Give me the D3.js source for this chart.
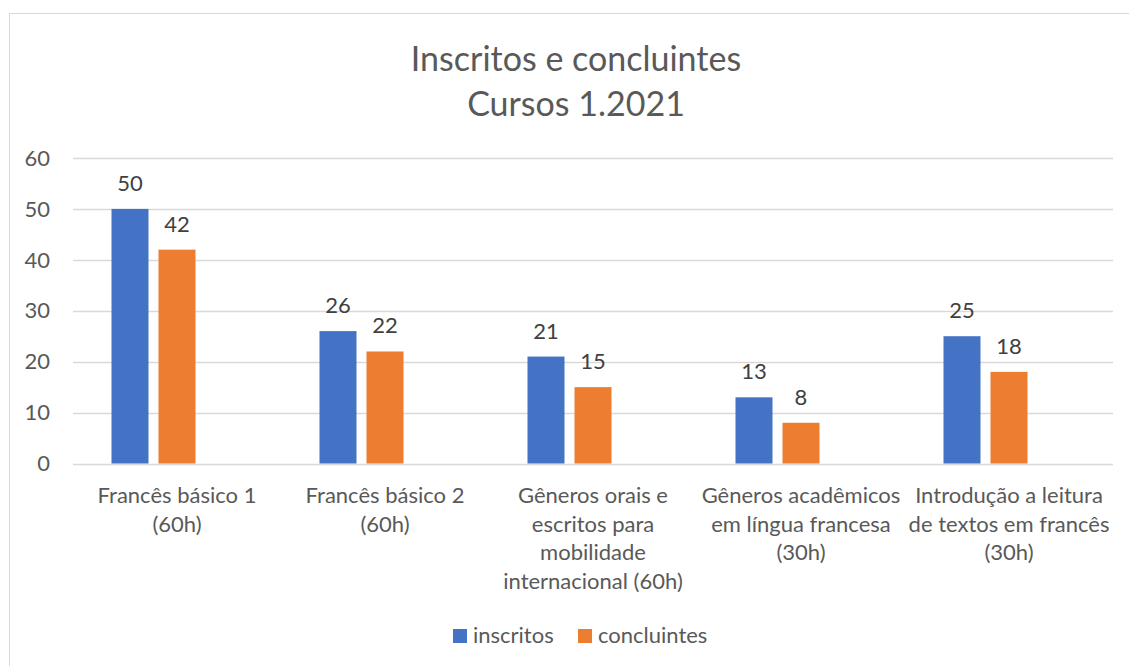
<!DOCTYPE html>
<html>
<head>
<meta charset="utf-8">
<script src="https://cdn.jsdelivr.net/npm/d3@7"></script>
<style>
  body { margin: 0; background: #fff; }
  text { font-family: Lato, "Noto Sans", sans-serif; }
</style>
</head>
<body>
<div id="chart"></div>
<script>
// data
const categories = [
  ["Francês básico 1", "(60h)"],
  ["Francês básico 2", "(60h)"],
  ["Gêneros orais e", "escritos para", "mobilidade", "internacional (60h)"],
  ["Gêneros acadêmicos", "em língua francesa", "(30h)"],
  ["Introdução a leitura", "de textos em francês", "(30h)"]
];
const seriesNames = ["inscritos", "concluintes"];
const inscritos = [50, 26, 21, 13, 25];
const concluintes = [42, 22, 15, 8, 18];
const yTicks = [0, 10, 20, 30, 40, 50, 60];
const titleLines = ["Inscritos e concluintes", "Cursos 1.2021"];

const colors = { inscritos: "#4472C4", concluintes: "#ED7D31" };

const width = 1129, height = 666;
const plot = { left: 73, right: 1113, top: 158, bottom: 463.5 };

const svg = d3.select("#chart").append("svg")
  .attr("width", width)
  .attr("height", height);

// chart frame (runs off the picture right and bottom)
svg.append("rect")
  .attr("x", 9.5).attr("y", 13.5)
  .attr("width", 1200).attr("height", 800)
  .attr("fill", "none")
  .attr("stroke", "#d9d9d9");

// scales
const x0 = d3.scaleBand()
  .domain(d3.range(categories.length))
  .range([plot.left, plot.right]);

// excel leaves room for a third (empty) slot in each cluster
const x1 = d3.scaleBand()
  .domain([...seriesNames, ""])
  .range([38.5, x0.bandwidth() - 38.5])
  .paddingInner(0.213);

const y = d3.scaleLinear()
  .domain([0, 60])
  .range([plot.bottom, plot.top]);

// gridlines
svg.append("g")
  .selectAll("line")
  .data(yTicks)
  .join("line")
  .attr("x1", plot.left)
  .attr("x2", plot.right)
  .attr("y1", (d) => Math.round(y(d)) + 0.5)
  .attr("y2", (d) => Math.round(y(d)) + 0.5)
  .attr("stroke", "#d9d9d9")
  .attr("stroke-width", 1.5);

// y tick labels
svg.append("g")
  .selectAll("text")
  .data(yTicks)
  .join("text")
  .attr("x", 50)
  .attr("y", (d) => y(d))
  .attr("dy", "0.35em")
  .attr("text-anchor", "end")
  .attr("font-size", 22)
  .attr("fill", "#595959")
  .text((d) => d);

// title
svg.append("text")
  .attr("text-anchor", "middle")
  .attr("font-size", 34)
  .attr("fill", "#595959")
  .selectAll("tspan")
  .data(titleLines)
  .join("tspan")
  .attr("x", 576)
  .attr("y", (d, i) => 71 + i * 45)
  .text((d) => d);

// bars
const rows = categories.map((c, i) => ({
  i,
  values: [
    { key: "inscritos", value: inscritos[i] },
    { key: "concluintes", value: concluintes[i] }
  ]
}));

const groups = svg.append("g")
  .selectAll("g")
  .data(rows)
  .join("g")
  .attr("transform", (d) => `translate(${x0(d.i)},0)`);

groups.selectAll("rect")
  .data((d) => d.values)
  .join("rect")
  .attr("x", (d) => x1(d.key))
  .attr("y", (d) => y(d.value))
  .attr("width", x1.bandwidth())
  .attr("height", (d) => y(0) - y(d.value))
  .attr("fill", (d) => colors[d.key]);

// data labels
groups.selectAll("text")
  .data((d) => d.values)
  .join("text")
  .attr("x", (d) => x1(d.key) + x1.bandwidth() / 2)
  .attr("y", (d) => y(d.value) - 18)
  .attr("text-anchor", "middle")
  .attr("font-size", 22)
  .attr("fill", "#404040")
  .text((d) => d.value);

// category labels
svg.append("g")
  .selectAll("text")
  .data(categories)
  .join("text")
  .attr("text-anchor", "middle")
  .attr("font-size", 22)
  .attr("fill", "#595959")
  .each(function (lines, i) {
    d3.select(this)
      .selectAll("tspan")
      .data(lines)
      .join("tspan")
      .attr("x", x0(i) + x0.bandwidth() / 2)
      .attr("y", (d, j) => 503 + j * 28.5)
      .text((d) => d);
  });

// legend
const legendX = [453, 578];
const legend = svg.append("g")
  .selectAll("g")
  .data(seriesNames)
  .join("g")
  .attr("transform", (d, i) => `translate(${legendX[i]},629)`);

legend.append("rect")
  .attr("width", 14)
  .attr("height", 14)
  .attr("fill", (d) => colors[d]);

legend.append("text")
  .attr("x", 20)
  .attr("y", 14)
  .attr("font-size", 22)
  .attr("fill", "#595959")
  .text((d) => d);
</script>
</body>
</html>
